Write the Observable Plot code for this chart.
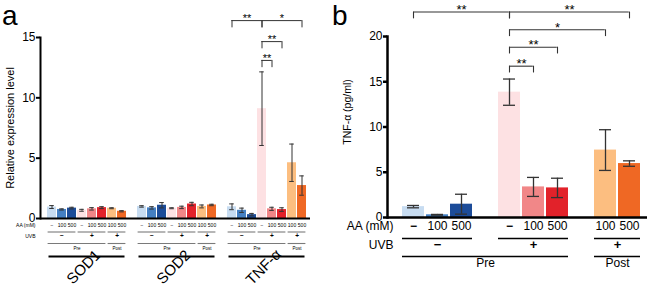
<!DOCTYPE html>
<html>
<head>
<meta charset="utf-8">
<script src="https://cdn.jsdelivr.net/npm/d3@7"></script>
<script src="https://cdn.jsdelivr.net/npm/@observablehq/plot@0.6"></script>
<style>
  html, body { margin: 0; padding: 0; background: #fff; }
  #wrap { position: relative; width: 660px; height: 293px; display: flex; font-family: "Liberation Sans", Arial, sans-serif; }
  #wrap > div.panel { width: 330px; height: 293px; }
  .letter { position: absolute; top: 0px; font-size: 28px; line-height: normal; font-family: "Liberation Sans", Arial, sans-serif; color: #000; }
</style>
</head>
<body>
<div id="wrap">
  <div class="panel" id="panelA"></div>
  <div class="panel" id="panelB"></div>
  <span class="letter" style="left:2px">a</span>
  <span class="letter" style="left:332px">b</span>
</div>
<script>
// ---------- data ----------
const genes = ["SOD1", "SOD2", "TNF-α"];
const aaDoses = ["−", "100", "500", "−", "100", "500", "100", "500"];
const uvbLabels = ["−", "+", "+"];
const phaseLabels = ["Pre", "Post"];
const barColors = ["#c7dcf1", "#4580c3", "#1c4c99", "#fde1e3", "#f18788", "#e2222a", "#fcbe80", "#ef6824"];
// condition groups (indices into the 8 conditions)
const aaGroups = [[0, 2], [3, 5], [6, 7]];
const phaseGroups = [[0, 5], [6, 7]];

// panel a: relative expression level (mean, error)
const sod1Mean = [0.95, 0.75, 0.86, 0.68, 0.80, 0.90, 0.85, 0.60];
const sod1Err  = [0.12, 0.05, 0.07, 0.08, 0.10, 0.08, 0.04, 0.05];
const sod2Mean = [1.00, 0.88, 1.10, 0.85, 0.92, 1.20, 1.00, 1.12];
const sod2Err  = [0.06, 0.10, 0.22, 0.04, 0.10, 0.14, 0.12, 0.06];
const tnfMean  = [0.97, 0.68, 0.32, 9.10, 0.80, 0.74, 4.62, 2.73];
const tnfErr   = [0.24, 0.18, 0.10, 3.05, 0.13, 0.15, 1.55, 0.80];
const yTicksA = [0, 5, 10, 15];
const bracketsA = [
  {from: 0, to: 3, level: 16.4, sig: "**"},
  {from: 3, to: 7, level: 16.4, sig: "*"},
  {from: 3, to: 5, level: 14.66, sig: "**"},
  {from: 3, to: 4, level: 13.1, sig: "**"}
];

// panel b: TNF-α (pg/ml) (mean, error)
const elisaMean = [1.20, 0.30, 1.47, 13.85, 3.38, 3.27, 7.45, 5.96];
const elisaErr  = [0.13, 0.04, 1.10, 1.45, 1.05, 1.07, 2.25, 0.30];
const yTicksB = [0, 5, 10, 15, 20];
const bracketsB = [
  {from: 0, to: 3, level: 22.7, sig: "**"},
  {from: 3, to: 7, level: 22.7, sig: "**"},
  {from: 3, to: 6, level: 20.74, sig: "*"},
  {from: 3, to: 5, level: 18.82, sig: "**"},
  {from: 3, to: 4, level: 16.72, sig: "**"}
];

// ---------- helpers ----------
const FONT = "Liberation Sans, Arial, sans-serif";
function bandInfo(opts) {
  const s = Plot.scale({x: opts});
  const n = opts.domain.length;
  const step = s.step ?? (opts.range[1] - opts.range[0]) / (n - opts.paddingInner + 2 * opts.paddingOuter);
  const bw = s.bandwidth ?? step * (1 - opts.paddingInner);
  return {step, bw};
}
function centerItem(domain, firstKey, lastKey, extra) {
  const i0 = domain.indexOf(firstKey), i1 = domain.indexOf(lastKey), n = i1 - i0 + 1;
  return n % 2 ? {x: domain[i0 + (n - 1) / 2], half: false, ...extra}
               : {x: domain[i0 + n / 2 - 1], half: true, ...extra};
}
function centeredText(items, step, opts) {
  return [
    Plot.text(items.filter(d => !d.half), {x: "x", text: "label", ...opts}),
    Plot.text(items.filter(d => d.half), {x: "x", text: "label", ...opts, dx: (opts.dx || 0) + step / 2})
  ];
}
function tableMarks(domain, keyOf, groupsets, step, st) {
  const marks = [];
  const aaLines = [], uvbItems = [], phaseLines = [], phaseItems = [], fullLines = [], fullItems = [];
  groupsets.forEach(g => {
    aaGroups.forEach(([a, b], j) => {
      aaLines.push({x1: keyOf(g, a), x2: keyOf(g, b)});
      uvbItems.push(centerItem(domain, keyOf(g, a), keyOf(g, b), {label: uvbLabels[j]}));
    });
    phaseGroups.forEach(([a, b], j) => {
      phaseLines.push({x1: keyOf(g, a), x2: keyOf(g, b)});
      phaseItems.push(centerItem(domain, keyOf(g, a), keyOf(g, b), {label: phaseLabels[j]}));
    });
    fullLines.push({x1: keyOf(g, 0), x2: keyOf(g, 7)});
    fullItems.push(centerItem(domain, keyOf(g, 0), keyOf(g, 7), {label: g}));
  });
  marks.push(Plot.ruleY(aaLines, {x1: "x1", x2: "x2", y: 0, dy: st.aaLineDy, stroke: st.lineColor, strokeWidth: st.lineWidth, insetLeft: st.lineInset, insetRight: st.lineInset}));
  marks.push(...centeredText(uvbItems, step, {frameAnchor: "bottom", dy: st.uvbDy, fontSize: st.uvbSize, fontWeight: "bold"}));
  marks.push(Plot.ruleY(phaseLines, {x1: "x1", x2: "x2", y: 0, dy: st.phaseLineDy, stroke: st.lineColor, strokeWidth: st.lineWidth, insetLeft: st.lineInset, insetRight: st.lineInset}));
  marks.push(...centeredText(phaseItems, step, {frameAnchor: "bottom", dy: st.phaseDy, fontSize: st.phaseSize}));
  return {marks, fullLines, fullItems};
}
function bracketMarks(domain, brackets, keyFn, step, bw, st) {
  const rows = brackets.map(b => ({from: keyFn(b.from), to: keyFn(b.to), level: b.level, sig: b.sig}));
  const legs = rows.flatMap(r => [{x: r.from, level: r.level}, {x: r.to, level: r.level}]);
  const stars = rows.map(r => centerItem(domain, r.from, r.to, {label: r.sig, level: r.level}));
  return [
    Plot.ruleY(rows, {x1: "from", x2: "to", y: "level", insetLeft: bw / 2, insetRight: bw / 2, stroke: "#333", strokeWidth: st.width}),
    Plot.ruleX(legs, {x: "x", y1: "level", y2: d => d.level - st.drop, stroke: "#333", strokeWidth: st.width}),
    ...centeredText(stars, step, {y: "level", lineAnchor: "bottom", dy: st.starDy, fontSize: st.starSize})
  ];
}

// ---------- panel a ----------
const meansA = [sod1Mean, sod2Mean, tnfMean];
const errsA = [sod1Err, sod2Err, tnfErr];
const keyA = (g, ci) => g + "|" + ci;
const domainA = [];
genes.forEach((g, gi) => { if (gi) domainA.push("gap" + gi); aaDoses.forEach((_, ci) => domainA.push(keyA(g, ci))); });
const rowsA = genes.flatMap((g, gi) => aaDoses.map((aa, ci) => ({
  key: keyA(g, ci), mean: meansA[gi][ci], err: errsA[gi][ci], color: barColors[ci], aa
})));
const xOptA = {type: "band", domain: domainA, range: [45, 307], paddingInner: 0.15, paddingOuter: 0, axis: null};
const {step: stepA, bw: bwA} = bandInfo(xOptA);
const tabA = tableMarks(domainA, keyA, genes, stepA, {
  aaLineDy: 13.5, uvbDy: 19, phaseLineDy: 25, phaseDy: 31,
  lineColor: "#7a7a7a", lineWidth: 1.1, lineInset: 0.6, uvbSize: 6.5, phaseSize: 4.5
});

const plotA = Plot.plot({
  width: 330, height: 293,
  marginLeft: 40, marginRight: 20, marginTop: 37, marginBottom: 75,
  style: {fontFamily: FONT, fontSize: "12px"},
  x: xOptA,
  y: {domain: [0, 15], axis: null},
  color: {type: "identity"},
  marks: [
    Plot.barY(rowsA, {x: "key", y: "mean", fill: "color"}),
    Plot.ruleX(rowsA, {x: "key", y1: d => d.mean - d.err, y2: d => d.mean + d.err, stroke: "#333", strokeWidth: 1}),
    Plot.tickY(rowsA, {x: "key", y: d => d.mean + d.err, stroke: "#333", strokeWidth: 1, inset: 2.2}),
    Plot.tickY(rowsA, {x: "key", y: d => d.mean - d.err, stroke: "#333", strokeWidth: 1, inset: 2.2}),
    Plot.text(["Relative expression level"], {frameAnchor: "left", textAnchor: "middle", rotate: -90, dx: -30, fontSize: 11}),
    // table
    Plot.text(rowsA, {x: "key", text: "aa", frameAnchor: "bottom", dy: 8.5, fontSize: 5}),
    Plot.text(["AA (mM)"], {frameAnchor: "bottom-left", textAnchor: "end", dx: -5, dy: 8.5, fontSize: 5}),
    Plot.text(["UVB"], {frameAnchor: "bottom-left", textAnchor: "end", dx: -5, dy: 19, fontSize: 5}),
    ...tabA.marks,
    Plot.ruleY(tabA.fullLines, {x1: "x1", x2: "x2", y: 0, dy: 38, stroke: "black", strokeWidth: 2, insetLeft: 1.5, insetRight: 1.5}),
    ...centeredText(tabA.fullItems, stepA, {frameAnchor: "bottom", dy: 52, rotate: -45, fontSize: 15}),
    ...bracketMarks(domainA, bracketsA, ci => keyA("TNF-α", ci), stepA, bwA, {width: 1, drop: 0.6, starDy: 1.5, starSize: 11}),
    // axes last
    Plot.ruleY([0], {stroke: "black", strokeWidth: 2}),
    Plot.frame({anchor: "left", stroke: "black", strokeWidth: 2}),
    Plot.axisY({ticks: yTicksA, tickSize: 4, tickPadding: 1, stroke: "black", strokeWidth: 2, fontSize: 12, label: null})
  ]
});
document.getElementById("panelA").append(plotA);

// ---------- panel b ----------
const keyB = (g, ci) => "c" + ci;
const domainB = [];
aaDoses.forEach((_, ci) => { domainB.push(keyB(null, ci)); if (ci === 2) domainB.push("gapA"); if (ci === 5) domainB.push("gapB"); });
const rowsB = aaDoses.map((aa, ci) => ({key: keyB(null, ci), mean: elisaMean[ci], err: elisaErr[ci], color: barColors[ci], aa}));
const xOptB = {type: "band", domain: domainB, range: [71.2, 310.8], paddingInner: 0.07, paddingOuter: 0, axis: null};
const {step: stepB, bw: bwB} = bandInfo(xOptB);
const tabB = tableMarks(domainB, keyB, [null], stepB, {
  aaLineDy: 21, uvbDy: 31, phaseLineDy: 39, phaseDy: 49.5,
  lineColor: "black", lineWidth: 1.4, lineInset: 0, uvbSize: 13, phaseSize: 12
});

const plotB = Plot.plot({
  width: 330, height: 293,
  marginLeft: 57, marginRight: 13, marginTop: 36, marginBottom: 76,
  style: {fontFamily: FONT, fontSize: "12px"},
  x: xOptB,
  y: {domain: [0, 20], axis: null},
  color: {type: "identity"},
  marks: [
    Plot.barY(rowsB, {x: "key", y: "mean", fill: "color"}),
    Plot.ruleX(rowsB, {x: "key", y1: d => d.mean - d.err, y2: d => d.mean + d.err, stroke: "#333", strokeWidth: 1.3}),
    Plot.tickY(rowsB, {x: "key", y: d => d.mean + d.err, stroke: "#333", strokeWidth: 1.3, inset: 5}),
    Plot.tickY(rowsB, {x: "key", y: d => d.mean - d.err, stroke: "#333", strokeWidth: 1.3, inset: 5}),
    Plot.text(["TNF-α (pg/ml)"], {frameAnchor: "left", textAnchor: "middle", rotate: -90, dx: -40, dy: -15, fontSize: 10.5}),
    Plot.text(rowsB.filter(d => d.aa === "−"), {x: "key", text: "aa", frameAnchor: "bottom", dy: 12.5, fontSize: 12, fontWeight: "bold"}),
    Plot.text(rowsB.filter(d => d.aa !== "−"), {x: "key", text: "aa", frameAnchor: "bottom", dy: 12.5, fontSize: 12}),
    Plot.text(["AA (mM)"], {frameAnchor: "bottom-left", textAnchor: "end", dx: 6, dy: 12.5, fontSize: 12}),
    Plot.text(["UVB"], {frameAnchor: "bottom-left", textAnchor: "end", dx: 6, dy: 31, fontSize: 12}),
    ...tabB.marks,
    ...bracketMarks(domainB, bracketsB, ci => keyB(null, ci), stepB, bwB, {width: 1.1, drop: 0.75, starDy: 2, starSize: 13}),
    // axes last
    Plot.ruleY([0], {stroke: "black", strokeWidth: 2.5}),
    Plot.frame({anchor: "left", stroke: "black", strokeWidth: 2.5}),
    Plot.axisY({ticks: yTicksB, tickSize: 4, tickPadding: 1, stroke: "black", strokeWidth: 2.5, fontSize: 12, label: null})
  ]
});
document.getElementById("panelB").append(plotB);
</script>
</body>
</html>
